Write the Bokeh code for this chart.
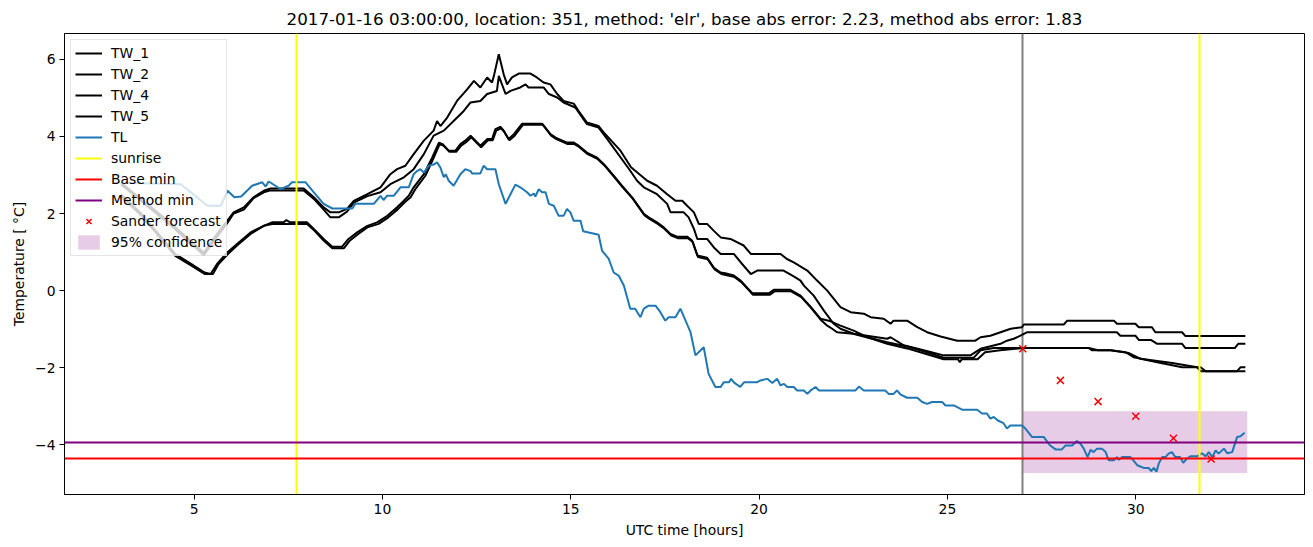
from bokeh.plotting import figure
from bokeh.models import Range1d, FixedTicker, Legend, LegendItem
from bokeh.embed import file_html
from bokeh.resources import INLINE

title_text = "2017-01-16 03:00:00, location: 351, method: 'elr', base abs error: 2.23, method abs error: 1.83"

# ---- data (hours UTC, temperature °C) ----
tw1_hours = [3.06, 4.37, 5.26, 5.61, 5.88, 6.05, 6.32, 6.58, 6.85, 7.03, 7.91, 8.18, 8.44, 8.62, 8.84, 9.06, 9.24, 9.6, 9.95,
             10.21, 10.39, 10.61, 10.83, 11.1, 11.36, 11.45, 11.54, 11.72, 11.98, 12.25, 12.43, 12.6, 12.78, 12.91, 12.96,
             13.09, 13.22, 13.31, 13.44, 13.62, 13.93, 14.1, 14.28, 14.46, 14.64, 14.81, 15.08, 15.21, 15.43, 15.74, 15.88,
             16.32, 16.6, 17.03, 17.29, 17.56, 17.78, 17.96, 18.09, 18.27, 18.4, 18.62, 18.8, 18.98, 19.24, 19.59, 19.78,
             20.57, 20.74, 20.92, 21.28, 21.54, 21.81, 22.16, 22.43, 22.78, 22.96, 23.31, 23.49, 23.57, 23.93, 24.2, 24.46,
             24.82, 25.26, 25.74, 25.88, 26.14, 26.41, 26.68, 26.98, 27.03, 28.09, 28.18, 29.42, 29.5, 29.99, 30.08, 30.43,
             30.52, 31.23, 31.32, 32.91]
tw1_values = [2.8, 1.76, 0.98, 1.47, 1.81, 2.03, 2.16, 2.42, 2.59, 2.65, 2.65, 2.42, 2.16, 2.03, 2.03, 2.12, 2.33, 2.5, 2.68,
              3.02, 3.15, 3.24, 3.54, 3.89, 4.15, 4.4, 4.27, 4.49, 4.92, 5.22, 5.44, 5.27, 5.53, 5.4, 5.57,
              6.13, 5.61, 5.35, 5.53, 5.63, 5.63, 5.53, 5.4, 5.35, 5.1, 4.92, 4.85, 4.66, 4.36, 4.27, 4.1,
              3.63, 3.2, 2.85, 2.72, 2.5, 2.33, 2.33, 2.2, 2.03, 1.73, 1.73, 1.55, 1.38, 1.34, 1.17, 0.95,
              0.95, 0.82, 0.73, 0.52, 0.26, 0.0, -0.43, -0.56, -0.6, -0.69, -0.73, -0.86, -0.78, -0.78, -0.95, -1.08,
              -1.19, -1.3, -1.3, -1.21, -1.17, -1.08, -0.99, -0.95, -0.88, -0.88, -0.78, -0.78, -0.86, -0.86, -0.95, -0.95,
              -1.08, -1.08, -1.18, -1.18]

tw2_hours = [3.06, 4.37, 5.26, 5.61, 5.88, 6.05, 6.32, 6.58, 6.85, 7.03, 7.91, 8.18, 8.44, 8.62, 8.84, 9.06, 9.24, 9.6, 9.95,
             10.21, 10.57, 10.83, 11.1, 11.36, 11.63, 11.89, 12.16, 12.34, 12.6, 12.78, 13.04, 13.09, 13.27, 13.4, 13.66,
             13.8, 13.88, 14.28, 14.42, 14.64, 14.81, 15.12, 15.43, 15.74, 15.97, 16.58, 16.76, 16.94, 17.29, 17.56, 17.65,
             18.0, 18.13, 18.27, 18.36, 18.62, 18.8, 18.98, 19.33, 19.55, 19.78, 19.95, 20.65, 20.92, 21.1, 21.19, 21.45,
             21.72, 21.98, 22.16, 22.51, 23.13, 23.4, 23.49, 23.84, 24.37, 24.9, 25.61, 25.88, 26.41, 26.58, 26.76, 26.94,
             27.12, 29.5, 29.59, 29.99, 30.08, 30.4, 30.57, 31.23, 31.32, 32.63, 32.72, 32.91]
tw2_values = [2.75, 1.7, 0.92, 1.4, 1.75, 2.0, 2.1, 2.4, 2.55, 2.6, 2.6, 2.38, 2.1, 1.9, 1.9, 2.05, 2.28, 2.45, 2.55,
              2.76, 2.94, 3.15, 3.54, 4.02, 4.15, 4.4, 4.66, 4.88, 4.92, 5.1, 5.18, 5.57, 5.1, 5.18, 5.27,
              5.35, 5.27, 5.27, 5.1, 5.01, 4.88, 4.75, 4.32, 4.23, 3.93, 3.11, 2.85, 2.68, 2.5, 2.25, 2.03,
              2.03, 1.9, 1.6, 1.34, 1.34, 1.12, 0.95, 0.95, 0.69, 0.43, 0.52, 0.52, 0.37, 0.26, 0.13, -0.13,
              -0.52, -0.86, -0.99, -1.12, -1.21, -1.25, -1.21, -1.42, -1.55, -1.68, -1.68, -1.51, -1.38, -1.3, -1.25, -1.17,
              -1.08, -1.08, -1.17, -1.17, -1.28, -1.28, -1.38, -1.38, -1.49, -1.49, -1.38, -1.38]

tw4_hours = [3.06, 3.6, 4.5, 4.93, 5.28, 5.44, 5.61, 5.88, 6.14, 6.5, 6.85, 7.07, 7.38, 7.45, 7.55, 8.0, 8.18, 8.44, 8.67,
             8.93, 9.1, 9.33, 9.6, 9.86, 10.13, 10.39, 10.57, 10.7, 10.83, 11.1, 11.32, 11.5, 11.6, 11.76, 11.94, 12.07,
             12.2, 12.34, 12.47, 12.6, 12.78, 12.91, 13.0, 13.13, 13.22, 13.35, 13.49, 13.71, 14.24, 14.46, 14.6, 14.9,
             15.08, 15.21, 15.43, 15.7, 15.88, 16.14, 16.36, 16.63, 16.94, 17.07, 17.29, 17.47, 17.65, 17.82, 18.09, 18.22,
             18.36, 18.62, 18.8, 18.98, 19.1, 19.33, 19.51, 19.82, 20.26, 20.39, 20.83, 21.1, 21.36, 21.63, 21.85, 22.16,
             22.51, 22.87, 23.4, 23.93, 24.46, 24.9, 25.7, 25.88, 26.23, 28.75, 28.84, 29.33, 29.73, 29.95, 30.57, 31.23,
             31.72, 31.85, 32.69, 32.78, 32.91]
tw4_values = [2.5, 2.0, 0.95, 0.69, 0.47, 0.43, 0.69, 0.99, 1.21, 1.51, 1.68, 1.77, 1.77, 1.83, 1.77, 1.77, 1.6, 1.34, 1.14,
              1.14, 1.34, 1.51, 1.68, 1.77, 1.94, 2.16, 2.33, 2.46, 2.68, 3.02, 3.45, 3.84, 3.8, 3.63, 3.63, 3.8,
              3.89, 4.02, 3.89, 3.76, 3.93, 3.93, 4.19, 4.25, 4.15, 3.93, 4.06, 4.33, 4.33, 4.06, 3.97, 3.84,
              3.84, 3.76, 3.58, 3.45, 3.28, 2.98, 2.72, 2.42, 1.99, 1.9, 1.77, 1.64, 1.47, 1.4, 1.4, 1.3,
              0.91, 0.85, 0.59, 0.47, 0.45, 0.39, 0.26, -0.07, -0.07, 0.02, 0.02, -0.13, -0.41, -0.73, -0.78, -0.91,
              -1.04, -1.21, -1.34, -1.45, -1.6, -1.74, -1.74, -1.55, -1.49, -1.49, -1.55, -1.55, -1.6, -1.73, -1.86, -1.99,
              -1.99, -2.09, -2.09, -1.99, -1.99]

tw5_hours = [3.06, 3.6, 4.5, 4.93, 5.28, 5.5, 5.65, 5.9, 6.14, 6.5, 6.85, 7.07, 8.0, 8.2, 8.44, 8.67, 8.98, 9.14, 9.36,
             9.6, 9.9, 10.16, 10.42, 10.6, 10.75, 10.88, 11.14, 11.34, 11.52, 11.62, 11.78, 11.96, 12.09, 12.22, 12.36,
             12.49, 12.62, 12.8, 12.93, 13.02, 13.15, 13.24, 13.37, 13.51, 13.73, 14.26, 14.48, 14.62, 14.92, 15.1, 15.23,
             15.45, 15.72, 15.9, 16.16, 16.38, 16.65, 16.96, 17.09, 17.31, 17.49, 17.67, 17.84, 18.11, 18.24, 18.38, 18.64,
             18.82, 19.0, 19.35, 19.53, 19.84, 20.28, 20.41, 20.85, 21.12, 21.38, 21.65, 21.81, 21.94, 22.07, 22.5, 23.0,
             23.4, 23.93, 24.46, 24.9, 25.28, 25.33, 25.38, 25.8, 26.0, 26.4, 27.0, 28.75, 29.0, 29.33, 29.82, 30.13,
             30.97, 31.63, 31.72, 32.91]
tw5_values = [2.45, 1.95, 0.9, 0.65, 0.43, 0.43, 0.69, 0.95, 1.17, 1.47, 1.68, 1.73, 1.73, 1.55, 1.3, 1.1, 1.1, 1.3, 1.47,
              1.64, 1.73, 1.9, 2.12, 2.3, 2.42, 2.64, 2.98, 3.4, 3.8, 3.76, 3.6, 3.6, 3.76, 3.85, 3.98,
              3.85, 3.72, 3.9, 3.9, 4.15, 4.21, 4.11, 3.9, 4.02, 4.3, 4.3, 4.02, 3.93, 3.8, 3.8, 3.72,
              3.54, 3.41, 3.24, 2.94, 2.68, 2.38, 1.95, 1.86, 1.73, 1.6, 1.43, 1.36, 1.36, 1.26, 0.87, 0.81,
              0.55, 0.43, 0.35, 0.22, -0.11, -0.11, -0.02, -0.02, -0.17, -0.45, -0.77, -0.91, -0.99, -1.08, -1.12, -1.25,
              -1.38, -1.5, -1.65, -1.78, -1.78, -1.86, -1.78, -1.78, -1.6, -1.55, -1.49, -1.49, -1.55, -1.55, -1.62, -1.77,
              -1.88, -1.99, -2.09, -2.09]

tl_hours = [3.06, 4.65, 5.19, 5.36, 5.71, 5.89, 6.07, 6.25, 6.54, 6.81, 6.9, 6.98, 7.16, 7.29, 7.51, 7.6, 7.96, 8.18, 8.44,
            8.67, 9.2, 9.28, 9.77, 9.95, 10.03, 10.12, 10.3, 10.48, 10.7, 10.83, 10.92, 11.01, 11.1, 11.23, 11.36, 11.45,
            11.54, 11.63, 11.68, 11.76, 11.89, 12.07, 12.2, 12.34, 12.38, 12.6, 12.69, 12.78, 13.0, 13.09, 13.27, 13.4,
            13.53, 13.66, 13.84, 13.93, 14.02, 14.06, 14.15, 14.24, 14.33, 14.42, 14.55, 14.68, 14.81, 14.9, 14.99, 15.08,
            15.26, 15.33, 15.74, 15.83, 16.01, 16.14, 16.27, 16.41, 16.58, 16.71, 16.85, 16.94, 17.07, 17.25, 17.38, 17.51,
            17.6, 17.78, 17.91, 18.18, 18.31, 18.53, 18.66, 18.84, 18.98, 19.06, 19.2, 19.26, 19.33, 19.5, 19.6, 19.94,
            20.04, 20.22, 20.35, 20.48, 20.57, 20.66, 20.75, 20.92, 21.01, 21.19, 21.28, 21.37, 21.5, 21.59, 22.56, 22.65,
            22.78, 23.35, 23.44, 23.57, 23.66, 23.75, 23.93, 24.2, 24.33, 24.46, 24.59, 24.86, 24.95, 25.17, 25.39, 25.79,
            25.92, 26.05, 26.14, 26.23, 26.34, 26.49, 26.58, 26.67, 26.98, 27.07, 27.25, 27.56, 27.73, 27.87, 28.04, 28.13,
            28.31, 28.44, 28.53, 28.62, 28.72, 28.8, 28.88, 28.97, 29.1, 29.2, 29.28, 29.42, 29.5, 29.55, 29.64, 29.86,
            29.93, 30.04, 30.21, 30.34, 30.41, 30.48, 30.55, 30.61, 30.7, 30.79, 30.87, 30.96, 31.05, 31.18, 31.26, 31.36,
            31.45, 31.63, 31.76, 31.85, 31.94, 32.03, 32.12, 32.2, 32.34, 32.43, 32.56, 32.69, 32.78, 32.89]
tl_values = [2.8, 2.76, 2.33, 2.2, 2.2, 2.59, 2.42, 2.44, 2.72, 2.81, 2.7, 2.83, 2.72, 2.63, 2.72, 2.81, 2.81, 2.55, 2.25,
             2.13, 2.13, 2.25, 2.25, 2.46, 2.35, 2.46, 2.46, 2.68, 2.68, 3.02, 3.1, 3.15, 3.06, 3.24, 3.27, 3.33,
             3.19, 2.94, 3.02, 2.85, 2.72, 3.02, 3.15, 3.1, 3.04, 3.04, 3.24, 3.15, 3.15, 2.76, 2.25, 2.5,
             2.75, 2.68, 2.55, 2.46, 2.52, 2.44, 2.63, 2.55, 2.55, 2.25, 2.2, 1.94, 1.94, 2.12, 2.03, 1.81,
             1.81, 1.54, 1.45, 1.04, 0.82, 0.47, 0.39, 0.13, -0.47, -0.47, -0.69, -0.47, -0.39, -0.39, -0.56, -0.78,
             -0.69, -0.69, -0.47, -1.08, -1.68, -1.47, -2.16, -2.5, -2.5, -2.38, -2.38, -2.29, -2.38, -2.5, -2.38, -2.38,
             -2.33, -2.29, -2.4, -2.29, -2.46, -2.42, -2.5, -2.5, -2.59, -2.59, -2.68, -2.59, -2.5, -2.59, -2.59, -2.49,
             -2.59, -2.59, -2.68, -2.68, -2.59, -2.69, -2.78, -2.78, -2.89, -2.94, -2.89, -2.89, -2.98, -2.98, -3.09, -3.09,
             -3.19, -3.19, -3.32, -3.28, -3.37, -3.44, -3.58, -3.5, -3.5, -3.58, -3.8, -3.8, -4.02, -4.12, -4.12, -4.02,
             -4.02, -3.9, -3.97, -4.1, -4.32, -4.13, -4.19, -4.1, -4.1, -4.19, -4.4, -4.4, -4.32, -4.39, -4.32, -4.32,
             -4.4, -4.53, -4.6, -4.6, -4.68, -4.6, -4.7, -4.49, -4.32, -4.32, -4.23, -4.19, -4.32, -4.32, -4.47, -4.36,
             -4.3, -4.3, -4.22, -4.3, -4.19, -4.32, -4.15, -4.23, -4.1, -4.22, -4.19, -3.8, -3.78, -3.69]

sunrise_hours = [7.72, 31.69]
forecast_start = [27.0]
base_min = [-4.35]
method_min = [-3.93]
forecast_hours = [27, 28, 29, 30, 31, 32]
forecast_values = [-1.51, -2.33, -2.88, -3.26, -3.83, -4.37]
conf_left = [27.0]
conf_right = [32.96]
conf_low = [-4.73]
conf_high = [-3.13]

x_ticks = [5, 10, 15, 20, 25, 30]
y_ticks = [-4, -2, 0, 2, 4, 6]
y_tick_labels = ["\u22124", "\u22122", "0", "2", "4", "6"]

FONT = "DejaVu Sans"
SMALL = "13.9px"

p = figure(width=1313, height=547, x_range=Range1d(1.56, 34.48), y_range=Range1d(-5.29, 6.67),
           output_backend="svg", toolbar_location=None, title=title_text,
           min_border_left=64, min_border_right=9, min_border_top=33, min_border_bottom=53)
p.background_fill_color = "white"
p.border_fill_color = "white"
p.outline_line_color = "black"
p.outline_line_width = 1
p.outline_line_alpha = 1.0
p.xgrid.grid_line_color = None
p.ygrid.grid_line_color = None

p.title.align = "center"
p.title.text_font = FONT
p.title.text_font_size = "16.7px"
p.title.text_font_style = "normal"
p.title.text_color = "black"

for ax in (p.xaxis[0], p.yaxis[0]):
    ax.major_label_text_font = FONT
    ax.major_label_text_font_size = SMALL
    ax.major_label_text_color = "black"
    ax.axis_label_text_font = FONT
    ax.axis_label_text_font_size = SMALL
    ax.axis_label_text_font_style = "normal"
    ax.axis_label_text_color = "black"
    ax.minor_tick_line_color = None
    ax.major_tick_in = 0
    ax.major_tick_out = 5
    ax.major_tick_line_color = "black"
    ax.axis_line_color = "black"
    ax.major_label_standoff = 4
    ax.axis_label_standoff = 5

p.xaxis.ticker = FixedTicker(ticks=x_ticks)
p.yaxis.ticker = FixedTicker(ticks=y_ticks)
p.yaxis.major_label_overrides = {t: lab for t, lab in zip(y_ticks, y_tick_labels)}
p.xaxis.axis_label = "UTC time [hours]"
p.yaxis.axis_label = "Temperature [ \u00b0C]"

r_conf = p.quad(left=conf_left, right=conf_right, bottom=conf_low, top=conf_high,
                fill_color="purple", fill_alpha=0.2, line_color=None)
r_fs = p.vspan(x=forecast_start, line_color="gray", line_width=2)

lw = 2
r1 = p.line(tw1_hours, tw1_values, line_color="black", line_width=lw)
r2 = p.line(tw2_hours, tw2_values, line_color="black", line_width=lw)
r4 = p.line(tw4_hours, tw4_values, line_color="black", line_width=lw)
r5 = p.line(tw5_hours, tw5_values, line_color="black", line_width=lw)
r_tl = p.line(tl_hours, tl_values, line_color="#1f77b4", line_width=lw)
r_sun = p.vspan(x=sunrise_hours, line_color="yellow", line_width=lw)
r_base = p.hspan(y=base_min, line_color="red", line_width=lw)
r_meth = p.hspan(y=method_min, line_color="purple", line_width=lw)
r_fc = p.scatter(forecast_hours, forecast_values, marker="x", size=10, line_color="red", line_width=1.5)

items = [
    LegendItem(label="TW_1", renderers=[r1]),
    LegendItem(label="TW_2", renderers=[r2]),
    LegendItem(label="TW_4", renderers=[r4]),
    LegendItem(label="TW_5", renderers=[r5]),
    LegendItem(label="TL", renderers=[r_tl]),
    LegendItem(label="sunrise", renderers=[r_sun]),
    LegendItem(label="Base min", renderers=[r_base]),
    LegendItem(label="Method min", renderers=[r_meth]),
    LegendItem(label="Sander forecast", renderers=[r_fc]),
    LegendItem(label="95% confidence", renderers=[r_conf]),
]
legend = Legend(items=items, location="top_left")
legend.label_text_font = FONT
legend.label_text_font_size = SMALL
legend.label_text_color = "black"
legend.glyph_width = 27
legend.glyph_height = 18
legend.label_height = 18
legend.spacing = 3
legend.padding = 4
legend.margin = 6
legend.label_standoff = 9
legend.border_line_color = "#cccccc"
legend.border_line_width = 1
legend.background_fill_alpha = 0.8
p.add_layout(legend)

open("out.html", "w").write(file_html(p, INLINE))
